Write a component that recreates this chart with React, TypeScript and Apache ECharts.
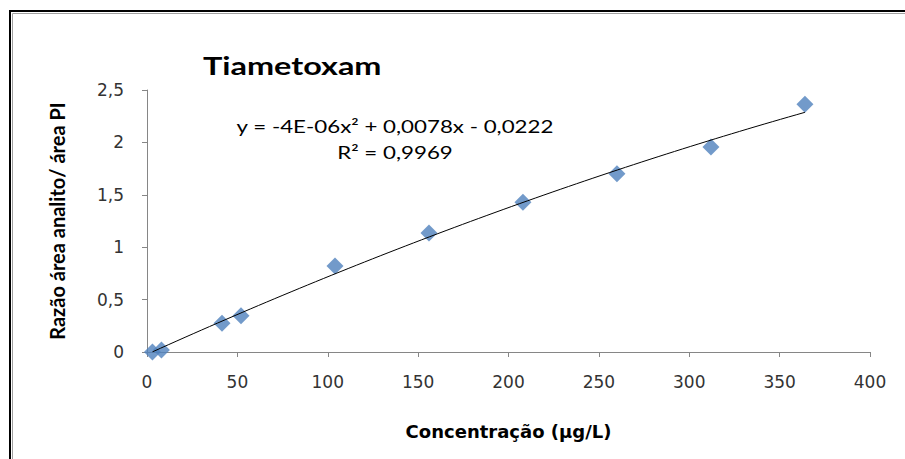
import React, { useEffect, useRef } from "react";
import * as echarts from "echarts";

// Calibration points: concentration (µg/L) vs analyte/IS area ratio
const concentrations = [3, 8, 41.5, 52, 104, 156, 208, 260, 312, 364];
const areaRatios = [0.0, 0.02, 0.275, 0.345, 0.82, 1.135, 1.43, 1.70, 1.955, 2.365];

// Quadratic trendline coefficients [a, b, c] for y = a·x² + b·x + c
const trendCoefficients = [-4e-6, 0.0078, -0.0222];
const equationLabel = "y = -4E-06x² + 0,0078x - 0,0222";
const r2Label = "R² = 0,9969";

const chartTitle = "Tiametoxam";
const xAxisTitle = "Concentração (µg/L)";
const yAxisTitle = "Razão área analito/ área PI";

const FONT = "Lato, 'Open Sans', 'Liberation Sans', sans-serif";
const WIDE_FONT = "'DejaVu Sans', 'Open Sans', sans-serif";

export default function App() {
  const ref = useRef<HTMLDivElement>(null);

  useEffect(() => {
    if (!ref.current) return;
    const chart = echarts.init(ref.current, undefined, { renderer: "svg" });

    const [a, b, c] = trendCoefficients;
    const xMin = Math.min(...concentrations);
    const xMax = Math.max(...concentrations);
    const trend: number[][] = [];
    const steps = 80;
    for (let i = 0; i <= steps; i++) {
      const x = xMin + ((xMax - xMin) * i) / steps;
      trend.push([x, a * x * x + b * x + c]);
    }

    const axisColor = "#868686";
    const commaFmt = (v: number) => String(v).replace(".", ",");

    chart.setOption({
      animation: false,
      backgroundColor: "#ffffff",
      grid: { left: 147, right: 35, top: 90, bottom: 107 },
      xAxis: {
        type: "value",
        min: 0,
        max: 400,
        interval: 50,
        splitLine: { show: false },
        axisLine: { show: true, onZero: false, lineStyle: { color: axisColor, width: 1 } },
        axisTick: { show: true, length: 5, lineStyle: { color: axisColor } },
        axisLabel: { margin: 21, fontFamily: WIDE_FONT, fontSize: 17, color: "#333", formatter: commaFmt },
        name: xAxisTitle,
        nameLocation: "middle",
        nameGap: 70,
        nameTextStyle: { fontFamily: WIDE_FONT, fontWeight: "bold", fontSize: 18, color: "#000" },
      },
      yAxis: {
        type: "value",
        min: 0,
        max: 2.5,
        interval: 0.5,
        splitLine: { show: false },
        axisLine: { show: true, lineStyle: { color: axisColor, width: 1 } },
        axisTick: { show: true, length: 5, lineStyle: { color: axisColor } },
        axisLabel: { margin: 23, fontFamily: WIDE_FONT, fontSize: 17, color: "#333", formatter: commaFmt },
        name: yAxisTitle,
        nameLocation: "middle",
        nameGap: 80,
        nameRotate: 90,
        nameTextStyle: { fontFamily: FONT, fontWeight: "bold", fontSize: 20, color: "#000" },
      },
      series: [
        {
          type: "line",
          data: trend,
          showSymbol: false,
          symbol: "none",
          lineStyle: { color: "#000", width: 1 },
          z: 3,
          silent: true,
        },
        {
          type: "scatter",
          data: concentrations.map((x, i) => [x, areaRatios[i]]),
          symbol: "diamond",
          symbolSize: [17, 17],
          itemStyle: { color: "#4F81BD" },
          z: 2,
        },
      ],
      graphic: [
        {
          type: "rect",
          shape: { x: 10, y: 11, width: 1000, height: 1000 },
          style: { fill: "none", stroke: "#000", lineWidth: 2 },
        },
        {
          type: "rect",
          shape: { x: 12.5, y: 13.5, width: 1000, height: 1000 },
          style: { fill: "none", stroke: "#a0a0a0", lineWidth: 1 },
        },
        {
          type: "text",
          x: 203,
          y: 66,
          scaleX: 1.35,
          style: {
            text: chartTitle,
            align: "left",
            verticalAlign: "middle",
            fontFamily: FONT,
            fontWeight: "bold",
            fontSize: 24,
            fill: "#000",
          },
        },
        {
          type: "text",
          x: 395,
          y: 139,
          scaleX: 1.24,
          style: {
            text: equationLabel + "\n" + r2Label,
            align: "center",
            verticalAlign: "middle",
            fontFamily: FONT,
            fontSize: 18,
            lineHeight: 26,
            fill: "#000",
          },
        },
      ],
    });

    return () => chart.dispose();
  }, []);

  return (
    <div
      ref={ref}
      style={{ position: "fixed", left: 0, top: 0, width: 905, height: 459 }}
    />
  );
}
